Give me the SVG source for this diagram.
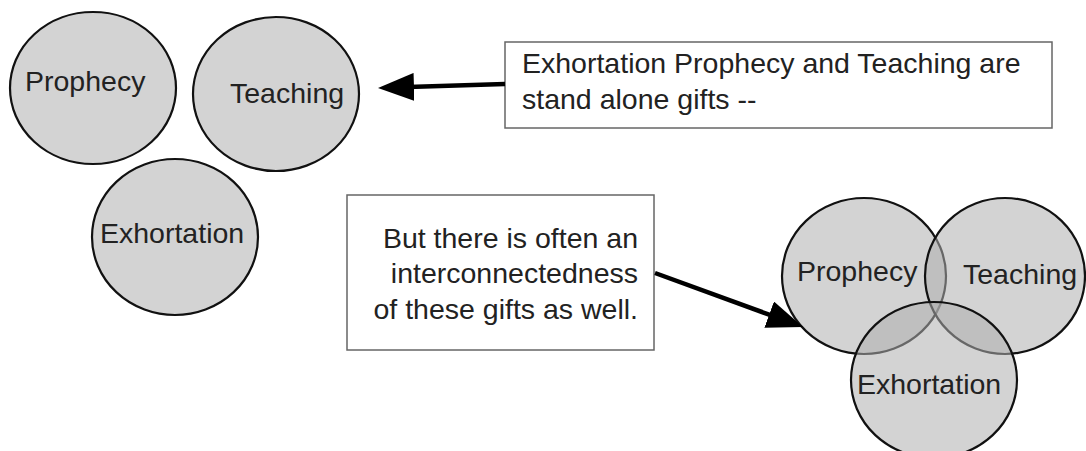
<svg xmlns="http://www.w3.org/2000/svg" width="1086" height="451" viewBox="0 0 1086 451">
<style>
.c{fill:#aeaeae;fill-opacity:0.55;stroke:#111;stroke-width:2.2}
.t{font-family:"Liberation Sans",Arial,sans-serif;font-size:28.5px;fill:#222}
.b{fill:#fff;stroke:#666;stroke-width:1.5}
.a{stroke:#000;stroke-width:4.5;fill:none}
</style>
<defs>
<marker id="ah" markerUnits="userSpaceOnUse" markerWidth="36" markerHeight="28" refX="6" refY="14" orient="auto" viewBox="0 0 36 28">
<path d="M0,0 L36,14 L0,28 z" fill="#000"/>
</marker>
</defs>
<rect width="1086" height="451" fill="#fff"/>
<g id="prophecy-left"><ellipse class="c" cx="93" cy="88" rx="83" ry="76"/><text class="t" x="25" y="91">Prophecy</text></g>
<g id="teaching-left"><ellipse class="c" cx="276" cy="94" rx="83" ry="77"/><text class="t" x="230" y="103">Teaching</text></g>
<g id="exhortation-left"><ellipse class="c" cx="175" cy="237" rx="83" ry="78"/><text class="t" x="100" y="243">Exhortation</text></g>
<g id="box-standalone"><rect class="b" x="505" y="42" width="547" height="86"/>
<text class="t" x="522" y="73">Exhortation Prophecy and Teaching are</text>
<text class="t" x="522" y="109">stand alone gifts --</text></g>
<g id="box-interconnected"><rect class="b" x="347" y="195" width="307" height="155"/>
<text class="t" text-anchor="end" x="638" y="248">But there is often an</text>
<text class="t" text-anchor="end" x="638" y="283">interconnectedness</text>
<text class="t" text-anchor="end" x="638" y="319">of these gifts as well.</text></g>
<g id="prophecy-right"><ellipse class="c" cx="864" cy="276" rx="82" ry="78"/><text class="t" x="797" y="281">Prophecy</text></g>
<g id="teaching-right"><ellipse class="c" cx="1005" cy="276" rx="80" ry="78"/><text class="t" x="963" y="284">Teaching</text></g>
<g id="exhortation-right"><ellipse class="c" cx="934" cy="380" rx="83" ry="78"/><text class="t" x="857" y="394">Exhortation</text></g>
<g id="connectors">
<line class="a" x1="505" y1="84" x2="408" y2="87.1" marker-end="url(#ah)"/>
<line class="a" x1="655" y1="273" x2="774.8" y2="316.7" marker-end="url(#ah)"/>
</g>
</svg>
